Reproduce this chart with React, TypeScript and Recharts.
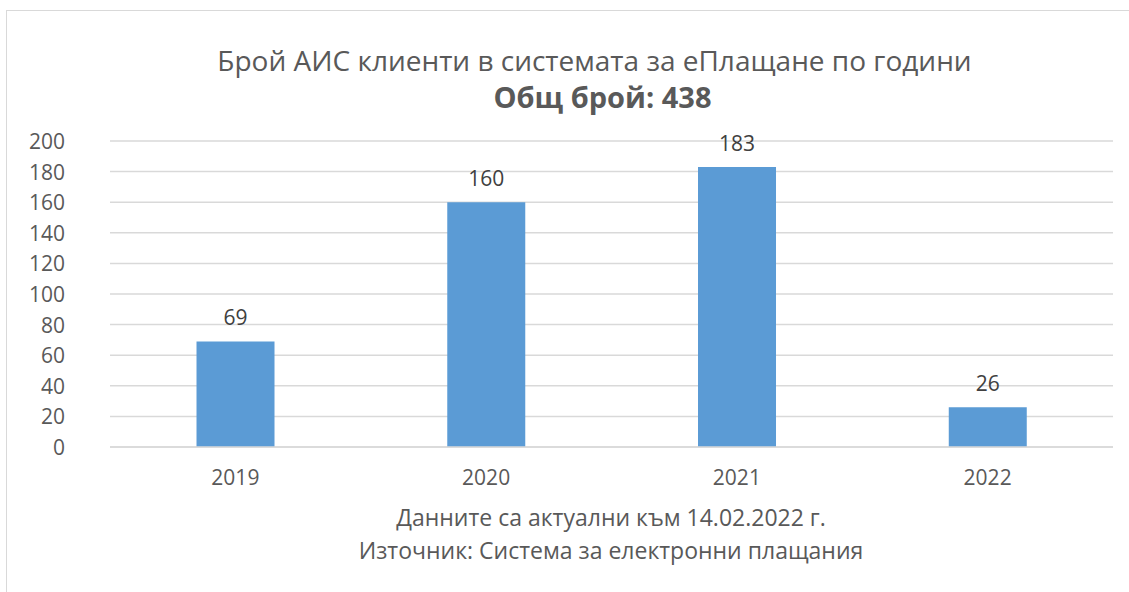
import React from 'react';
import { BarChart, Bar, XAxis, YAxis, CartesianGrid, LabelList } from 'recharts';

const years = ['2019', '2020', '2021', '2022'];
const clients = [69, 160, 183, 26];
const yTicks = [0, 20, 40, 60, 80, 100, 120, 140, 160, 180, 200];

const data = years.map((year, i) => ({ year, clients: clients[i] }));

const FONT = '"Open Sans", "Noto Sans", sans-serif';
const TEXT = '#595959';

function YTick({ y, payload }: any) {
    return (
        <text x={65} y={y} textAnchor="end" dominantBaseline="central" fill={TEXT} fontSize={21} fontFamily={FONT}>
            {payload.value}
        </text>
    );
}

export default function App() {
    return (
        <div style={{ position: 'absolute', left: 0, top: 0, width: 1129, height: 592, background: '#fff', overflow: 'hidden', fontFamily: FONT }}>
            <div style={{ position: 'absolute', left: 6, top: 10, width: 1140, height: 600, border: '1.5px solid #D9D9D9' }} />
            <div style={{ position: 'absolute', left: 0, top: 41, width: 1189, textAlign: 'center', fontSize: 28, color: TEXT, lineHeight: '38px', whiteSpace: 'nowrap' }}>
                Брой АИС клиенти в системата за еПлащане по години
            </div>
            <div style={{ position: 'absolute', left: 0, top: 78, width: 1205, textAlign: 'center', fontSize: 29, fontWeight: 700, color: TEXT, lineHeight: '38px' }}>
                Общ брой: 438
            </div>
            <BarChart
                width={1129}
                height={592}
                data={data}
                margin={{ top: 141, right: 16, bottom: 115, left: 0 }}
                barCategoryGap="34.5%"
            >
                <CartesianGrid vertical={false} stroke="#D9D9D9" strokeWidth={1.5} />
                <XAxis
                    dataKey="year"
                    axisLine={{ stroke: '#D9D9D9', strokeWidth: 1.5 }}
                    tickLine={false}
                    tick={{ fill: TEXT, fontSize: 21, fontFamily: FONT }}
                    tickMargin={17}
                />
                <YAxis
                    width={110}
                    domain={[0, 200]}
                    ticks={yTicks}
                    axisLine={false}
                    tickLine={false}
                    tick={<YTick />}
                />
                <Bar dataKey="clients" fill="#5B9BD5" isAnimationActive={false}>
                    <LabelList dataKey="clients" position="top" offset={16} fill="#404040" fontSize={21} fontFamily={FONT} />
                </Bar>
            </BarChart>
            <div style={{ position: 'absolute', left: 0, top: 501, width: 1222, textAlign: 'center', fontSize: 23, color: TEXT, lineHeight: '33px', whiteSpace: 'nowrap' }}>
                Данните са актуални към 14.02.2022 г.
                <br />
                Източник: Система за електронни плащания
            </div>
        </div>
    );
}
